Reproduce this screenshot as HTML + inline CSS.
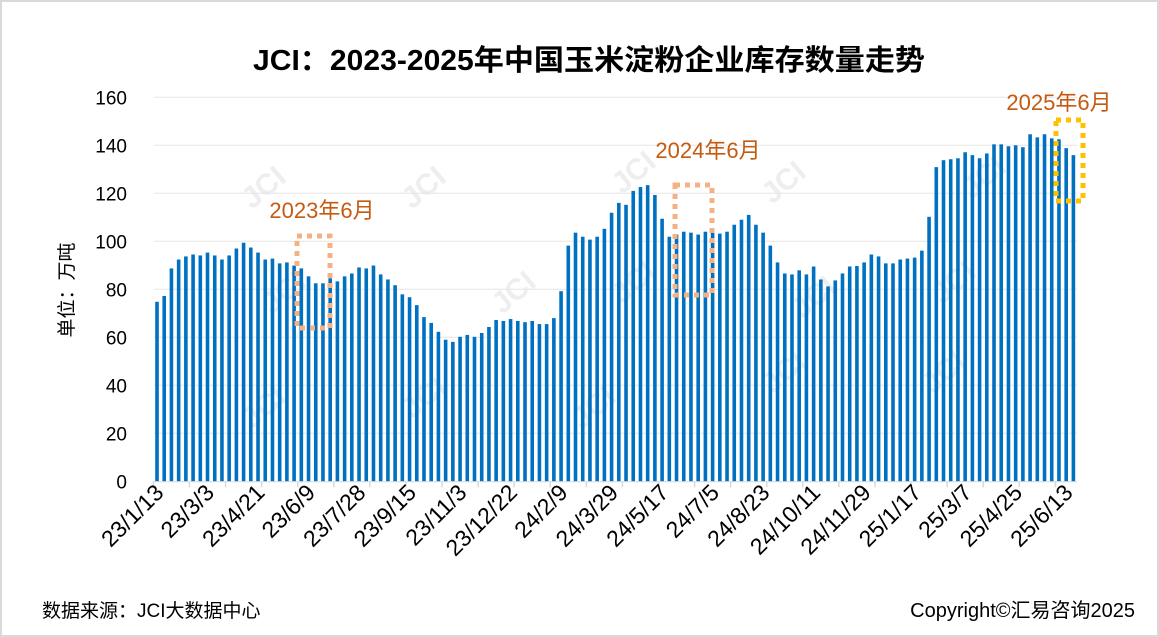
<!DOCTYPE html>
<html><head><meta charset="utf-8">
<style>
html,body{margin:0;padding:0;background:#fff;}
svg{display:block;font-family:"Liberation Sans","Noto Sans CJK SC",sans-serif;}
</style></head>
<body>
<svg id="chart" width="1159" height="637" viewBox="0 0 1159 637">
<rect x="1" y="1" width="1157" height="635" fill="#fff" stroke="#d9d9d9" stroke-width="2"/>
<text x="589" y="70" text-anchor="middle" font-size="29" font-weight="bold" fill="#000" textLength="672" lengthAdjust="spacingAndGlyphs">JCI：2023-2025年中国玉米淀粉企业库存数量走势</text>
<g id="watermarks" fill="#d8d8d8" font-size="30" font-weight="bold" opacity="0.45"></g>
<g id="grid"></g>
<g id="bars"></g>
<g id="axis"></g>
<text transform="translate(73,290) rotate(-90)" text-anchor="middle" font-size="19" fill="#000">单位：万吨</text>
<g>
<rect x="297" y="236" width="33" height="92" fill="none" stroke="#F4B183" stroke-width="5" stroke-dasharray="5,5"/>
<text x="322" y="218" text-anchor="middle" font-size="22" fill="#C55A11">2023年6月</text>
</g>
<g>
<rect x="675" y="185" width="37" height="110" fill="none" stroke="#F4B183" stroke-width="5" stroke-dasharray="5,5"/>
<text x="708" y="158" text-anchor="middle" font-size="22" fill="#C55A11">2024年6月</text>
</g>
<g>
<rect x="1056" y="120" width="27" height="81" fill="none" stroke="#FFC000" stroke-width="5" stroke-dasharray="5,5"/>
<text x="1059" y="110" text-anchor="middle" font-size="22" fill="#C55A11">2025年6月</text>
</g>
<text x="42" y="617" font-size="19" fill="#000">数据来源：JCI大数据中心</text>
<text x="1135" y="617" text-anchor="end" font-size="20" fill="#000">Copyright©汇易咨询2025</text>
</svg>
<script>
const values = [74.8,77.2,88.7,92.4,93.7,94.5,94.1,95.3,94.1,92.4,94.1,97,99.4,97.4,95.3,92.4,92.8,90.8,91.2,89.9,88.7,85.4,82.5,82.5,84.6,83.3,85.4,86.6,89.1,88.7,89.9,86.2,
84.1,81.7,77.9,76.7,73.4,68.4,66,62.3,59,58.1,60.2,61,60.2,61.8,64.3,67.2,66.8,67.6,66.8,66.3,66.8,65.5,65.5,68,79.2,98.2,103.6,101.9,100.7,101.9,105.2,111.9,116,
115.2,121,122.6,123.4,119.3,109.4,101.9,102.8,104,103.6,102.8,104,104.4,103.2,104,106.9,109,111,106.9,103.6,98.2,91.2,86.6,86.2,87.9,86.2,89.5,84.1,81.2,83.7,86.6,89.5,
89.7,91.2,94.5,93.7,90.8,90.8,92.4,92.8,93.2,96.1,110.2,130.9,133.8,134.2,134.6,137.1,135.9,134.6,136.6,140.4,140.4,139.6,140,139.2,144.6,143.3,144.6,142.9,142.5,138.8,135.9];
const xLabels = ["23/1/13","23/3/3","23/4/21","23/6/9","23/7/28","23/9/15","23/11/3","23/12/22","24/2/9","24/3/29","24/5/17","24/7/5","24/8/23","24/10/11","24/11/29","25/1/17","25/3/7","25/4/25","25/6/13"];
const yTicks = [0,20,40,60,80,100,120,140,160];
const labelEvery = 7;
const tickEvery = 5;

const NS = "http://www.w3.org/2000/svg";
const plotL = 153.4, plotR = 1077, y0 = 481.3, yTop = 97.3, yMax = 160;
const band = (plotR - plotL) / values.length;
const xC = i => plotL + band * (i + 0.5);
const yS = v => y0 - (v / yMax) * (y0 - yTop);
function mk(tag, attrs, parent){const e=document.createElementNS(NS,tag);for(const k in attrs)e.setAttribute(k,attrs[k]);parent.appendChild(e);return e;}

const grid = document.getElementById('grid');
const axis = document.getElementById('axis');
yTicks.forEach(t=>{
  if(t>0){const l=mk('line',{x1:154,x2:plotR,y1:yS(t),y2:yS(t),stroke:'#e6e6e6','stroke-width':1},grid);
  
  }
  const tx=mk('text',{x:127,y:yS(t)+7,'text-anchor':'end','font-size':19,fill:'#000'},axis);
  tx.textContent=t;
  
  
});
const bars = document.getElementById('bars');
values.forEach((v,i)=>{
  const r=mk('rect',{x:xC(i)-1.8,y:yS(v),width:3.6,height:y0-yS(v),fill:'#0070C0'},bars);
  
  
});
const xl=mk('line',{x1:plotL,x2:plotR,y1:y0+0.5,y2:y0+0.5,stroke:'#d9d9d9','stroke-width':1},axis);


for(let i=0;i<=values.length;i+=tickEvery){
  const x=plotL+band*i;
  const tk=mk('line',{x1:x,x2:x,y1:y0,y2:y0+6,stroke:'#d9d9d9','stroke-width':1.5},axis);
  
  
}
xLabels.forEach((lab,k)=>{
  const x=xC(k*labelEvery)+8, y=494;
  const t=mk('text',{x:x,y:y,'text-anchor':'end','font-size':23,fill:'#000',transform:`rotate(-45 ${x} ${y})`},axis);
  t.textContent=lab;
  
  
});
const wm=document.getElementById('watermarks');
[[270,195],[430,195],[790,190],[640,180],[520,300],[640,290],[820,305],[990,185],[270,415],[430,405],[600,415],[790,380],[950,380],[290,300],[960,290]].forEach(p=>{
  const t=mk('text',{x:p[0],y:p[1],'text-anchor':'middle',transform:`rotate(-40 ${p[0]} ${p[1]})`},wm);
  t.textContent='JCI';
  
  
});
</script>
</body></html>
